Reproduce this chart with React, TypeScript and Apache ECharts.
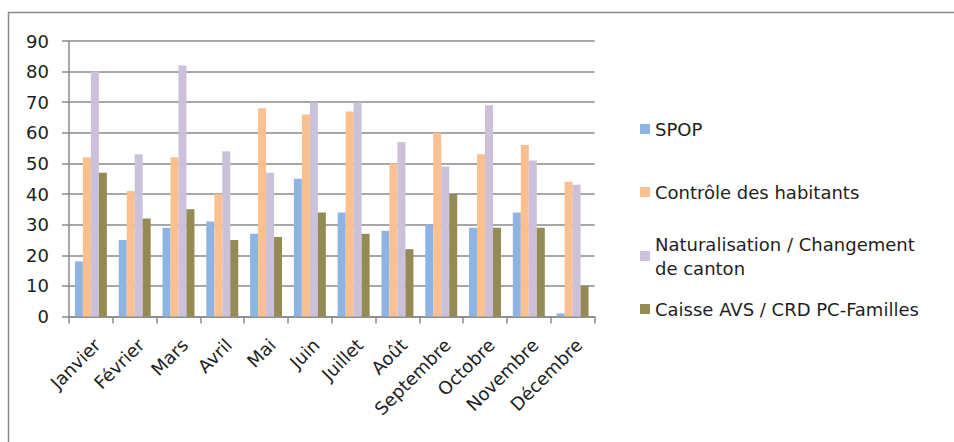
import React, { useEffect, useRef } from "react";
import * as echarts from "echarts";

const months = ["Janvier", "Février", "Mars", "Avril", "Mai", "Juin", "Juillet", "Août", "Septembre", "Octobre", "Novembre", "Décembre"];
const seriesNames = ["SPOP", "Contrôle des habitants", "Naturalisation / Changement de canton", "Caisse AVS / CRD PC-Familles"];
const spop = [18, 25, 29, 31, 27, 45, 34, 28, 30, 29, 34, 1];
const controle = [52, 41, 52, 40, 68, 66, 67, 50, 60, 53, 56, 44];
const naturalisation = [80, 53, 82, 54, 47, 70, 70, 57, 49, 69, 51, 43];
const caisse = [47, 32, 35, 25, 26, 34, 27, 22, 40, 29, 29, 10];
const colors = ["#8EB4E3", "#FAC08F", "#CCC1DA", "#948A54"];
const yTicks = [0, 90, 10];

const FONT = "DejaVu Sans";
const TXT = "#1e1e1e";
const GRID = "#8a8a8a";

export default function App() {
  const ref = useRef<HTMLDivElement>(null);
  useEffect(() => {
    if (!ref.current) return;
    const chart = echarts.init(ref.current, undefined, { renderer: "svg" });
    const values = [spop, controle, naturalisation, caisse];
    const legendTops = [112, 175, 215, 292];
    chart.setOption({
      animation: false,
      backgroundColor: "#ffffff",
      textStyle: { fontFamily: FONT },
      graphic: [
        {
          type: "rect",
          shape: { x: 8.5, y: 12.5, width: 1000, height: 500 },
          style: { fill: "none", stroke: "#8a8a8a", lineWidth: 1.5 },
          silent: true,
          z: -1,
        },
      ],
      grid: { left: 69, right: 359.5, top: 41, bottom: 125.5, containLabel: false },
      legend: seriesNames.map((n, i) => ({
        data: [n],
        orient: "vertical",
        left: 635,
        top: legendTops[i],
        icon: "rect",
        itemWidth: 10,
        itemHeight: 10,
        selectedMode: false,
        formatter: (name: string) =>
          name === "Naturalisation / Changement de canton" ? "Naturalisation / Changement\nde canton" : name,
        textStyle: {
          fontFamily: FONT,
          fontSize: 18,
          color: TXT,
          lineHeight: 24,
          padding: i === 2 ? [24, 0, 0, 0] : 0,
        },
      })),
      xAxis: {
        type: "category",
        data: months,
        boundaryGap: true,
        axisLine: { show: true, lineStyle: { color: GRID, width: 1.5 } },
        axisTick: { show: true, length: 7, inside: false, lineStyle: { color: GRID, width: 1.5 } },
        axisLabel: {
          interval: 0,
          rotate: 45,
          align: "right",
          verticalAlign: "top",
          margin: 19,
          fontFamily: FONT,
          fontSize: 18,
          color: TXT,
        },
      },
      yAxis: {
        type: "value",
        min: yTicks[0],
        max: yTicks[1],
        interval: yTicks[2],
        axisLine: { show: true, lineStyle: { color: GRID, width: 1.5 } },
        axisTick: { show: true, length: 7, inside: false, lineStyle: { color: GRID, width: 1.5 } },
        splitLine: { show: true, lineStyle: { color: GRID, width: 1.5 } },
        axisLabel: { margin: 20, fontFamily: FONT, fontSize: 18, color: TXT },
      },
      series: seriesNames.map((n, i) => ({
        name: n,
        type: "bar",
        data: values[i],
        barGap: "0%",
        barCategoryGap: "27%",
        itemStyle: { color: colors[i] },
      })),
    });
    return () => chart.dispose();
  }, []);
  return (
    <div
      ref={ref}
      style={{ position: "fixed", left: 0, top: 0, width: 954, height: 442 }}
    />
  );
}
